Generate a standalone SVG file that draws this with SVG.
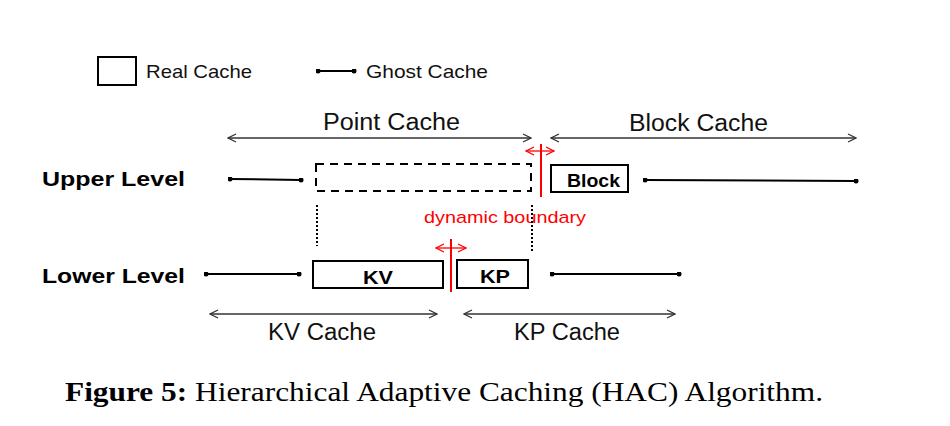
<svg xmlns="http://www.w3.org/2000/svg" width="950" height="426" viewBox="0 0 950 426">
<defs>
<marker id="oa" viewBox="0 0 10 10" refX="9" refY="5" markerWidth="10" markerHeight="10" markerUnits="userSpaceOnUse" orient="auto-start-reverse"><path d="M1,1 L9,5 L1,9" fill="none" stroke="#333" stroke-width="1.3"/></marker>
<marker id="ra" viewBox="0 0 10 10" refX="9" refY="5" markerWidth="10" markerHeight="10" markerUnits="userSpaceOnUse" orient="auto-start-reverse"><path d="M1,1 L9,5 L1,9" fill="none" stroke="#f00" stroke-width="1.3"/></marker>
<marker id="dot" viewBox="0 0 6 6" refX="3" refY="3" markerWidth="5" markerHeight="5" markerUnits="userSpaceOnUse"><circle cx="3" cy="3" r="3" fill="#000"/></marker>
</defs>
<style>
.lbl{font-family:"Liberation Sans",Arial,sans-serif;fill:#111}
.bold{font-family:"Liberation Sans",Arial,sans-serif;font-weight:bold;fill:#000}
.box{fill:#fff;stroke:#000;stroke-width:2}
.ghost{stroke:#000;stroke-width:2;marker-start:url(#dot);marker-end:url(#dot)}
.span{stroke:#333;stroke-width:1.3;marker-start:url(#oa);marker-end:url(#oa)}
.red{stroke:#f00;stroke-width:2}
.rarr{stroke:#f00;stroke-width:1.3;marker-start:url(#ra);marker-end:url(#ra)}
</style>
<rect width="950" height="426" fill="#fff"/>
<g id="legend">
<rect class="box" x="98" y="57" width="38" height="28"/>
<text class="lbl" x="146" y="78" font-size="19" textLength="106" lengthAdjust="spacingAndGlyphs">Real Cache</text>
<line class="ghost" x1="318" y1="71" x2="354" y2="71"/>
<text class="lbl" x="366" y="78" font-size="19" textLength="122" lengthAdjust="spacingAndGlyphs">Ghost Cache</text>
</g>
<g id="labels">
<text class="lbl" x="323" y="130" font-size="23" textLength="137" lengthAdjust="spacingAndGlyphs">Point Cache</text>
<text class="lbl" x="629" y="131" font-size="23" textLength="139" lengthAdjust="spacingAndGlyphs">Block Cache</text>
<text class="bold" x="42" y="186" font-size="21" textLength="143" lengthAdjust="spacingAndGlyphs">Upper Level</text>
<text class="bold" x="42" y="283" font-size="21" textLength="143" lengthAdjust="spacingAndGlyphs">Lower Level</text>
<text x="424" y="223" font-size="17" fill="#f00" font-family="Liberation Sans,Arial,sans-serif" textLength="162" lengthAdjust="spacingAndGlyphs">dynamic boundary</text>
<text class="lbl" x="268" y="340" font-size="23" textLength="108" lengthAdjust="spacingAndGlyphs">KV Cache</text>
<text class="lbl" x="514" y="340" font-size="23" textLength="106" lengthAdjust="spacingAndGlyphs">KP Cache</text>
</g>
<g id="upper-dashed">
<rect x="316" y="164" width="215" height="27" fill="none" stroke="#000" stroke-width="2" stroke-dasharray="8,6"/>
</g>
<g id="block">
<rect class="box" x="551" y="165" width="77" height="27"/>
<text class="bold" x="567" y="187" font-size="19" textLength="53" lengthAdjust="spacingAndGlyphs">Block</text>
</g>
<g id="kv">
<rect class="box" x="313" y="261" width="130" height="27"/>
<text class="bold" x="363" y="284" font-size="19" textLength="30" lengthAdjust="spacingAndGlyphs">KV</text>
</g>
<g id="kp">
<rect class="box" x="457" y="260" width="71" height="28"/>
<text class="bold" x="480" y="283" font-size="19" textLength="30" lengthAdjust="spacingAndGlyphs">KP</text>
</g>
<g id="connectors">
<line class="span" x1="228" y1="138" x2="531" y2="138"/>
<line class="span" x1="551" y1="138" x2="856" y2="138"/>
<line class="span" x1="210" y1="314" x2="437" y2="314"/>
<line class="span" x1="464" y1="314" x2="675" y2="314"/>
<line class="ghost" x1="230" y1="179" x2="301" y2="180"/>
<line class="ghost" x1="645" y1="180" x2="856" y2="181"/>
<line class="ghost" x1="206" y1="274" x2="299" y2="274"/>
<line class="ghost" x1="552" y1="274" x2="679" y2="274"/>
<line x1="317" y1="205" x2="317" y2="246" stroke="#000" stroke-width="2" stroke-dasharray="2,2"/>
<line x1="532" y1="205" x2="532" y2="251" stroke="#000" stroke-width="2" stroke-dasharray="2,2"/>
<line class="red" x1="541" y1="144" x2="541" y2="197"/>
<line class="rarr" x1="526" y1="151" x2="554" y2="151"/>
<line class="red" x1="451" y1="239" x2="451" y2="292"/>
<line class="rarr" x1="436" y1="248" x2="466" y2="248"/>
</g>
<g id="caption">
<text x="65" y="401" font-family="Liberation Serif,Times New Roman,serif" font-size="28" fill="#000" textLength="758" lengthAdjust="spacingAndGlyphs"><tspan font-weight="bold">Figure 5:</tspan> Hierarchical Adaptive Caching (HAC) Algorithm.</text>
</g>
</svg>
